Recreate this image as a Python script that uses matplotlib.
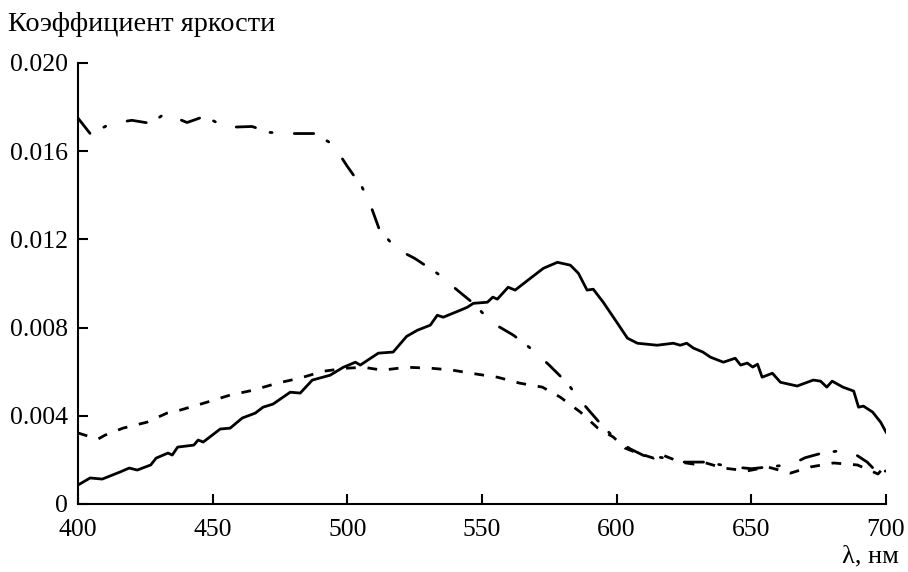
import matplotlib
matplotlib.use("Agg")
import matplotlib.pyplot as plt

plt.rcParams.update({"font.family": "Liberation Serif", "font.size": 18.5,
                     "lines.scale_dashes": False})

# spectral brightness coefficients, three samples
wl_solid = [400, 404.5, 409, 415.6, 419, 422, 427, 429, 433.4, 435, 437, 443, 444.6, 446.5,
            452.8, 456.5, 461, 465.8, 468.7, 472.4, 478.8, 482.5, 487, 493.6, 498.5, 503,
            504.8, 511.5, 517, 522, 526, 530.8, 533.4, 535.6, 542, 544.5, 546.8, 552, 554,
            555.7, 559.7, 562.3, 568, 572.8, 578, 582.8, 585.8, 589, 591.3, 595, 599.5,
            604, 607.7, 615, 621, 623.6, 626, 628.5, 632, 634.8, 639.6, 644, 646, 648.5,
            650.5, 652.3, 654, 657.8, 660.8, 667, 673, 675.7, 678, 680, 684, 688, 689.8,
            691.6, 695, 698, 700]
k_solid = [0.00086, 0.00118, 0.00113, 0.00145, 0.00163, 0.00154, 0.00177, 0.00208, 0.00231,
           0.00222, 0.00258, 0.00267, 0.00290, 0.00281, 0.00340, 0.00344, 0.00390, 0.00412,
           0.00439, 0.00453, 0.00507, 0.00503, 0.00562, 0.00584, 0.00620, 0.00643, 0.00630,
           0.00684, 0.00689, 0.00760, 0.00788, 0.00811, 0.00856, 0.00847, 0.00879, 0.00892,
           0.00910, 0.00915, 0.00938, 0.00929, 0.00983, 0.00970, 0.01024, 0.01069, 0.01096,
           0.01083, 0.01046, 0.00970, 0.00974, 0.00915, 0.00834, 0.00752, 0.00729, 0.00720,
           0.00729, 0.00720, 0.00729, 0.00707, 0.00689, 0.00666, 0.00643, 0.00661, 0.00630,
           0.00639, 0.00621, 0.00634, 0.00575, 0.00593, 0.00552, 0.00535, 0.00562, 0.00557,
           0.00530, 0.00557, 0.00530, 0.00512, 0.00439, 0.00444, 0.00417, 0.00371, 0.00326]

wl_dash = [400, 407.4, 410, 416.7, 425.6, 433, 438, 448, 456.5, 465, 474, 482.5, 491, 500,
           506, 513, 522, 530.8, 539, 548, 555.7, 564, 572.4, 579, 586.5, 593, 598.8, 603,
           607.7, 613.7, 616, 623.6, 628.5, 632, 639.6, 648.5, 656, 664.5, 672, 680.5,
           689.4, 697, 700]
k_dash = [0.00322, 0.00294, 0.00312, 0.00344, 0.00371, 0.00412, 0.00426, 0.00462, 0.00494,
          0.00516, 0.00548, 0.00571, 0.00602, 0.00616, 0.00620, 0.00607, 0.00620, 0.00616,
          0.00607, 0.00589, 0.00575, 0.00548, 0.00530, 0.00485, 0.00417, 0.00344, 0.00303,
          0.00254, 0.00231, 0.00208, 0.00227, 0.00190, 0.00181, 0.00190, 0.00163, 0.00150,
          0.00168, 0.00140, 0.00168, 0.00186, 0.00177, 0.00136, 0.00177]

wl_dashdot = [400, 404.5, 412.6, 420, 427, 432.3, 440.5, 447, 455, 464.6, 471.3, 479.5, 488,
              494.7, 500, 505.5, 508.5, 512, 518.5, 525, 533.4, 540.8, 546.8, 553.5, 561.6,
              567.5, 574.6, 581.7, 585.8, 590, 595, 600, 605, 610, 617, 625, 633, 642, 650,
              658, 665, 670, 676, 682, 688, 693, 697, 700]
k_dashdot = [0.0175, 0.0168, 0.01726, 0.0174, 0.01726, 0.01771, 0.0173, 0.01758, 0.01708,
             0.01712, 0.01685, 0.0168, 0.0168, 0.0163, 0.01531, 0.01436, 0.01359, 0.01241,
             0.01155, 0.01114, 0.01046, 0.0097, 0.0091, 0.00824, 0.00766, 0.00711, 0.00634,
             0.00548, 0.0048, 0.0042, 0.0035, 0.0029, 0.0025, 0.0022, 0.0021, 0.0019, 0.0019,
             0.0017, 0.0016, 0.0017, 0.0018, 0.0021, 0.0023, 0.0024, 0.0023, 0.0019, 0.0014,
             0.0015]

x_ticks = [400, 450, 500, 550, 600, 650, 700]
y_ticks = [0, 0.004, 0.008, 0.012, 0.016, 0.020]
y_labels = ["0", "0.004", "0.008", "0.012", "0.016", "0.020"]

fig = plt.figure(figsize=(9.08, 5.72), dpi=100)
ax = fig.add_axes([0.0859, 0.1189, 0.8899, 0.7710])

ax.plot(wl_solid, k_solid, color="black", lw=2.0, solid_joinstyle="round")
ax.plot(wl_dash, k_dash, color="black", lw=2.0, dashes=(7, 8.5))
ax.plot(wl_dashdot, k_dashdot, color="black", lw=2.0, dashes=(14, 11, 1.5, 16),
        dash_capstyle="round")

ax.set_xlim(400, 700)
ax.set_ylim(0, 0.020)
ax.set_xticks(x_ticks)
ax.set_yticks(y_ticks)
ax.set_yticklabels(y_labels)
ax.tick_params(direction="in", length=7, width=1.5)
ax.tick_params(axis="x", pad=11)
ax.tick_params(axis="y", pad=7)
for s in ["top", "right"]:
    ax.spines[s].set_visible(False)
for s in ["left", "bottom"]:
    ax.spines[s].set_linewidth(1.5)

fig.text(0.009, 0.946, "Коэффициент яркости", ha="left", va="baseline", fontsize=20.3)
fig.text(0.99, 0.0175, "λ, нм", ha="right", va="baseline", fontsize=19)

fig.savefig("out.png", dpi=100)
